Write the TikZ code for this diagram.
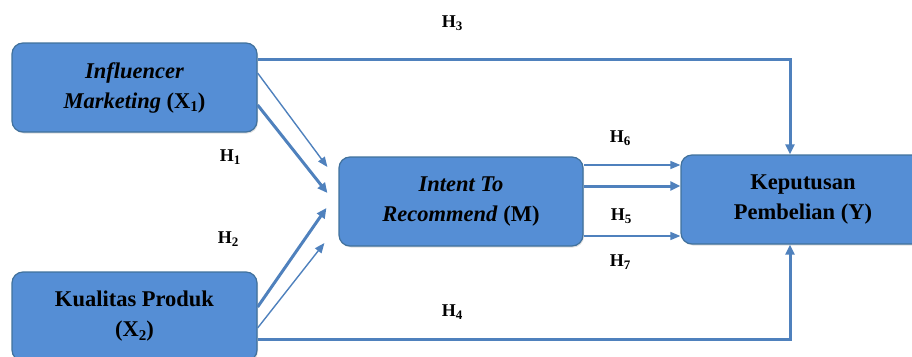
\documentclass[tikz,border=0pt]{standalone}
\usepackage{fontspec}
\setmainfont{Liberation Serif}
\usetikzlibrary{arrows.meta,shadows}
\definecolor{boxfill}{HTML}{558ED5}
\definecolor{boxline}{HTML}{41719C}
\definecolor{arr}{HTML}{4F81BD}
\newcommand{\sbx}[1]{\raisebox{-0.3ex}{\fontsize{15}{15}\selectfont #1}}
\newcommand{\sbh}[1]{\raisebox{-0.3ex}{\fontsize{13}{13}\selectfont #1}}
\begin{document}
\begin{tikzpicture}[x=1pt,y=-1pt,
  box/.style={draw=boxline,line width=1.2pt,fill=boxfill,rounded corners=11pt,
    minimum width=245pt,minimum height=89pt,align=center,
    font=\fontsize{22.5}{30}\selectfont\bfseries,
    drop shadow={opacity=0.25,shadow xshift=1pt,shadow yshift=-1.5pt}},
  thin/.style={draw=arr,line width=1.4pt,-{Triangle[length=10pt,width=8pt]}},
  thick/.style={draw=arr,line width=3pt,-{Triangle[length=10pt,width=9pt]}},
  hlab/.style={font=\fontsize{18}{20}\selectfont\bfseries}]
\useasboundingbox (0,0) rectangle (912,356);
\clip (0,0) rectangle (912,356);
\node[box] (x1) at (134.5,87.5) {\textit{Influencer}\\\textit{Marketing} (X\sbx{1})};
\node[box] (x2) at (134.5,316.5) {Kualitas Produk\\(X\sbx{2})};
\node[box,minimum width=244pt] (m) at (461,201.5) {\textit{Intent To}\\\textit{Recommend} (M)};
\node[box,minimum width=244pt] (y) at (803,199.5) {Keputusan\\Pembelian (Y)};
% H3 and H4
\draw[thick] ([yshift=28.5pt]x1.east) -| ([xshift=-13pt]y.north);
\draw[thick] ([yshift=-22.5pt]x2.east) -| ([xshift=-13pt]y.south);
% X1 to M
\draw[thin] ([yshift=14.5pt]x1.east) -- ([xshift=-11pt,yshift=34.5pt]m.west);
\draw[thick] ([yshift=-17.5pt]x1.east) -- ([xshift=-11pt,yshift=8.5pt]m.west);
% X2 to M
\draw[thick] ([yshift=9.5pt]x2.east) -- ([xshift=-12pt,yshift=-6.5pt]m.west);
\draw[thin] ([yshift=-11.5pt]x2.east) -- ([xshift=-14pt,yshift=-41.5pt]m.west);
% M to Y
\draw[thin] ([yshift=36.5pt]m.east) -- ([yshift=36.5pt]m.east -| y.west);
\draw[thick] ([yshift=15.5pt]m.east) -- ([yshift=15.5pt]m.east -| y.west);
\draw[thin] ([yshift=-34.5pt]m.east) -- ([yshift=-34.5pt]m.east -| y.west);
% labels
\node[hlab] (h3) at (452,23) {H\sbh{3}};
\node[hlab] (h1) at (230,157) {H\sbh{1}};
\node[hlab] (h2) at (228,239) {H\sbh{2}};
\node[hlab] (h6) at (620,138) {H\sbh{6}};
\node[hlab] (h5) at (621,216) {H\sbh{5}};
\node[hlab] (h7) at (620,262) {H\sbh{7}};
\node[hlab] (h4) at (452,312) {H\sbh{4}};
\end{tikzpicture}
\end{document}
